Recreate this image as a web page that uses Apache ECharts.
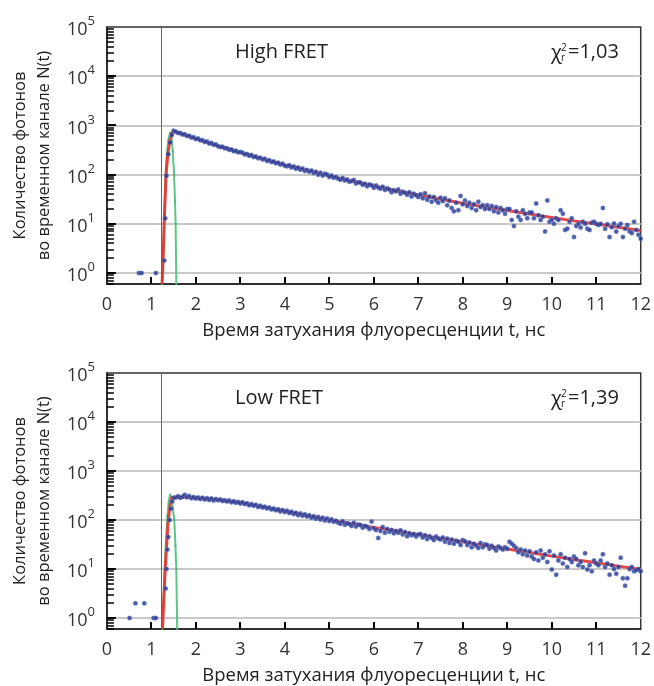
<!DOCTYPE html>
<html>
<head>
<meta charset="utf-8">
<script src="https://cdn.jsdelivr.net/npm/echarts@6/dist/echarts.min.js"></script>
<style>
  html, body { margin: 0; padding: 0; background: #fff; }
  #main { width: 654px; height: 686px; }
</style>
</head>
<body>
<div id="main"></div>
<script>
// photon counting channels of the decay part
var channelStart = 1.55;
var channelWidth = 0.05;

// --- High FRET ---
var highPre = [[0.72, 1], [0.78, 1], [1.10, 1]];
var highRise = [[1.29, 1.8], [1.31, 13], [1.34, 95], [1.38, 260], [1.42, 450], [1.46, 640], [1.50, 780]];
var highDecay = [
    745, 702, 700, 655, 660, 612, 615, 570, 575, 530,
    540, 498, 500, 462, 470, 430, 438, 405, 410, 378,
    365, 370, 342, 345, 320, 325, 300, 305, 284, 288,
    280, 258, 262, 242, 250, 228, 234, 215, 220, 204,
    210, 190, 196, 180, 186, 170, 175, 160, 166, 152,
    148, 156, 140, 147, 132, 140, 126, 133, 119, 125,
    115, 121, 108, 114, 100, 109, 96, 104, 101, 90,
    96, 86, 90, 83, 79, 85, 76, 80, 72, 74,
    78, 66, 70, 69, 62, 65, 58, 63, 61, 54,
    60, 55, 52, 57, 49, 53, 50, 44, 48, 46,
    50, 41, 45, 43, 39, 44, 36, 41, 38, 35,
    40, 33, 42, 31, 36, 28, 35, 30, 27, 34,
    29, 33, 24, 30, 21, 18, 27, 19, 37, 25,
    30, 23, 27, 21, 25, 19, 28, 22, 24, 20,
    24, 20, 23, 18, 22, 17, 21, 19, 16, 20,
    20, 12, 9, 18, 14, 12, 19, 16, 13, 17,
    17, 13, 26, 15, 12, 14, 7, 30, 11, 12,
    10, 13, 12, 19, 16, 7.5, 8, 11, 13, 5.4,
    9, 10, 8.4, 11, 10, 8, 7.5, 10.5, 11, 10,
    9.5, 10, 21, 8, 9.8, 5.4, 8.5, 10.2, 7, 9,
    10, 5.4, 8, 9.5, 7, 6.5, 11, 7.5, 6, 5
];
var highFitT = [1.24, 1.27, 1.29, 1.33, 1.37, 1.42, 1.47, 1.52, 2, 2.5, 3, 3.5, 4, 4.5, 5, 5.5, 6, 6.5, 7, 7.5, 8, 8.5, 9, 9.5, 10, 10.5, 11, 11.5, 12];
var highFitV = [0.6, 3, 12, 100, 260, 520, 720, 760, 537, 385, 282, 209, 158, 122, 94, 74, 59, 47, 38.5, 31.6, 26.3, 22.1, 18.6, 15.8, 13.5, 11.5, 9.9, 8.5, 7.3];
var highIrfT = [1.24, 1.27, 1.29, 1.32, 1.35, 1.38, 1.42, 1.45, 1.48, 1.51, 1.53, 1.545, 1.56];
var highIrfV = [0.6, 3, 15, 100, 280, 500, 720, 620, 300, 100, 30, 10, 0.6];

// --- Low FRET ---
var lowPre = [[0.51, 1], [0.64, 2], [0.84, 2], [1.05, 1], [1.10, 1]];
var lowRise = [[1.32, 4], [1.34, 10], [1.36, 25], [1.38, 45], [1.41, 100], [1.44, 170], [1.47, 240], [1.50, 285]];
var lowDecay = [
    290, 305, 285, 300, 330, 292, 310, 280, 295, 275,
    290, 270, 285, 262, 280, 258, 275, 250, 268, 255,
    262, 245, 255, 238, 250, 230, 242, 225, 235, 218,
    230, 212, 220, 200, 212, 195, 205, 185, 196, 180,
    188, 172, 180, 165, 172, 158, 166, 150, 160, 146,
    155, 140, 148, 133, 141, 126, 136, 122, 131, 118,
    125, 112, 120, 106, 116, 103, 112, 98, 108, 96,
    104, 92, 97, 88, 84, 95, 80, 86, 83, 76,
    88, 74, 81, 79, 70, 76, 73, 66, 93, 68,
    63, 43, 60, 72, 55, 66, 58, 63, 54, 60,
    55, 62, 51, 57, 47, 54, 49, 52, 46, 51,
    52, 44, 49, 41, 47, 43, 39, 46, 42, 40,
    44, 36, 42, 34, 40, 33, 38, 36, 31, 39,
    37, 31, 35, 28, 33, 30, 27, 34, 28, 32,
    31, 26, 30, 27, 24, 29, 27, 25, 28, 26,
    36, 33, 30, 27, 22, 25, 20, 24, 19, 23,
    18, 16, 22, 15, 24, 17, 20, 14, 23, 9.8,
    19, 7.7, 15, 20, 13, 17, 11, 16, 14, 18,
    16, 12, 14, 11, 21, 9.8, 12, 9, 15, 13,
    12, 15, 20, 11, 13, 7.7, 12, 10, 8, 11,
    17, 6.5, 4.6, 6.5, 10, 11, 9, 9.5, 10, 9
];
var lowFitT = [1.25, 1.31, 1.35, 1.38, 1.42, 1.46, 1.5, 1.75, 2, 2.5, 3, 3.5, 4, 4.5, 5, 5.5, 6, 6.5, 7, 7.5, 8, 8.5, 9, 9.5, 10, 10.5, 11, 11.5, 12];
var lowFitV = [0.6, 10, 40, 100, 200, 290, 299, 295, 285, 260, 226, 186, 151, 123, 101, 84, 71, 60, 50, 42, 36, 30, 25.7, 21.9, 18.4, 15.7, 13.5, 11.5, 9.8];
var lowIrfT = [1.24, 1.27, 1.30, 1.33, 1.36, 1.39, 1.42, 1.45, 1.48, 1.515, 1.54, 1.56, 1.58];
var lowIrfV = [0.6, 2, 10, 40, 120, 240, 330, 290, 180, 100, 30, 10, 0.6];

var xTicks = [0, 12, 1];          // min, max, interval (ns)
var yRange = [0.6, 100000];
var yDecades = [1, 10, 100, 1000, 10000];
var laserT = 1.23;
var panelTitles = ['High FRET', 'Low FRET'];
var chiValues = ['=1,03', '=1,39'];

var FONT = '"Open Sans", "DejaVu Sans", sans-serif';
var gridTops = [27, 373];
var gridHeights = [257, 256];

function pairs(t, v) {
    return t.map(function (x, i) { return [x, v[i]]; });
}
function decayPoints(vals) {
    return vals.map(function (v, i) {
        return [Math.round((channelStart + i * channelWidth) * 100) / 100, v];
    });
}
// log-spaced minor tick positions (2..9 in each decade) for the y axis
var minorTickVals = [];
for (var dec = -1; dec < 5; dec++) {
    for (var k = 2; k <= 9; k++) {
        var mv = k * Math.pow(10, dec);
        if (mv > yRange[0] && mv < yRange[1]) minorTickVals.push(mv);
    }
}

var chartDom = document.getElementById('main');
var myChart = echarts.init(chartDom, null, { renderer: 'canvas' });

var grids = [], xAxes = [], yAxes = [], series = [], graphics = [];
var panels = [
    { pre: highPre, rise: highRise, decay: highDecay, fitT: highFitT, fitV: highFitV, irfT: highIrfT, irfV: highIrfV },
    { pre: lowPre, rise: lowRise, decay: lowDecay, fitT: lowFitT, fitV: lowFitV, irfT: lowIrfT, irfV: lowIrfV }
];

panels.forEach(function (p, i) {
    grids.push({
        left: 101, right: 12, top: gridTops[i], height: gridHeights[i],
        show: true, borderColor: '#333', borderWidth: 1.5
    });
    xAxes.push({
        gridIndex: i, type: 'value', min: xTicks[0], max: xTicks[1], interval: xTicks[2],
        name: 'Время затухания флуоресценции t, нс',
        nameLocation: 'middle', nameGap: 37,
        nameTextStyle: { fontFamily: FONT, fontSize: 18.5, color: '#222' },
        axisLine: { show: true, lineStyle: { color: '#222', width: 1.5 } },
        axisTick: { show: false },
        axisLabel: { fontFamily: FONT, fontSize: 18, color: '#333', margin: 12 },
        splitLine: { show: false }
    });
    yAxes.push({
        gridIndex: i, type: 'log', logBase: 10, min: yRange[0], max: yRange[1],
        name: 'Количество фотонов\nво временном канале N(t)',
        nameLocation: 'middle', nameRotate: 90, nameGap: 50,
        nameTextStyle: { fontFamily: FONT, fontSize: 16.5, color: '#222', lineHeight: 24 },
        axisLine: { show: true, lineStyle: { color: '#222', width: 1.5 } },
        axisTick: { show: false },
        axisLabel: {
            margin: 12,
            formatter: function (v) {
                if (v < 0.99) return '';
                var ex = Math.round(Math.log(v) / Math.LN10);
                return '{b|10}{s|' + ex + '}';
            },
            rich: {
                b: { fontFamily: FONT, fontSize: 18, color: '#333', lineHeight: 24, verticalAlign: 'bottom' },
                s: { fontFamily: FONT, fontSize: 13, color: '#333', lineHeight: 13, verticalAlign: 'top' }
            }
        },
        splitLine: { show: true, showMinLine: false, showMaxLine: false, lineStyle: { color: '#c8c8c8', width: 2 } }
    });

    series.push({
        type: 'line', xAxisIndex: i, yAxisIndex: i, data: pairs(p.irfT, p.irfV),
        symbol: 'circle', symbolSize: 2, showSymbol: true,
        lineStyle: { color: '#5cc784', width: 2 }, itemStyle: { color: '#3fb56c' },
        z: 2
    });
    series.push({
        type: 'line', xAxisIndex: i, yAxisIndex: i, data: pairs(p.fitT, p.fitV),
        showSymbol: false,
        lineStyle: { color: '#e8302f', width: 3, opacity: 0.9 },
        z: 3
    });
    series.push({
        type: 'scatter', xAxisIndex: i, yAxisIndex: i,
        data: p.pre.concat(p.rise, decayPoints(p.decay)),
        symbol: 'circle', symbolSize: 4.5,
        itemStyle: { color: '#26368f', borderColor: 'rgba(120,150,220,0.5)', borderWidth: 1 },
        z: 4,
        markLine: {
            symbol: 'none', label: { show: false },
            lineStyle: { color: '#666', width: 1, type: 'solid' },
            data: [{ xAxis: laserT }]
        }
    });

    var ty = gridTops[i] + 25;
    graphics.push({ type: 'text', x: 235, y: ty, style: { text: panelTitles[i], font: '20px ' + FONT, fill: '#222', verticalAlign: 'middle' } });
    graphics.push({ type: 'text', x: 551, y: ty + 1, style: { text: 'χ', font: '20px ' + FONT, fill: '#222', verticalAlign: 'middle' } });
    graphics.push({ type: 'text', x: 561, y: ty - 4, style: { text: '2', font: '10px ' + FONT, fill: '#222', verticalAlign: 'middle' } });
    graphics.push({ type: 'text', x: 561, y: ty + 6, style: { text: 'r', font: '10px ' + FONT, fill: '#222', verticalAlign: 'middle' } });
    graphics.push({ type: 'text', x: 568, y: ty, style: { text: chiValues[i], font: '20px ' + FONT, fill: '#222', verticalAlign: 'middle' } });
});

var option = {
    animation: false,
    grid: grids,
    xAxis: xAxes,
    yAxis: yAxes,
    series: series,
    graphic: graphics
};
option && myChart.setOption(option);

// axis ticks pointing into the plot, placed through the chart's own scales
var tickLines = [];
function tick(x1, y1, x2, y2, w) {
    tickLines.push({
        type: 'rect', z: 100, silent: true,
        shape: { x: Math.min(x1, x2), y: Math.min(y1, y2), width: Math.max(Math.abs(x2 - x1), w), height: Math.max(Math.abs(y2 - y1), w) },
        style: { fill: '#000' }
    });
}
[0, 1].forEach(function (g) {
    var finder = { xAxisIndex: g, yAxisIndex: g };
    minorTickVals.forEach(function (v) {
        var pt = myChart.convertToPixel(finder, [xTicks[0], v]);
        var y = Math.round(pt[1]);
        tick(pt[0], y - 0.75, pt[0] + 7, y - 0.75, 1.5);
    });
    yDecades.forEach(function (v) {
        var pt = myChart.convertToPixel(finder, [xTicks[0], v]);
        var y = Math.round(pt[1]);
        tick(pt[0], y - 1, pt[0] + 9, y - 1, 2);
    });
    for (var x = xTicks[0] + xTicks[2]; x < xTicks[1]; x += xTicks[2]) {
        var pt = myChart.convertToPixel(finder, [x, yRange[0]]);
        var px = Math.round(pt[0]);
        tick(px - 1, pt[1] - 7, px - 1, pt[1], 2);
    }
});
myChart.setOption({ graphic: graphics.concat(tickLines) });
</script>
</body>
</html>
